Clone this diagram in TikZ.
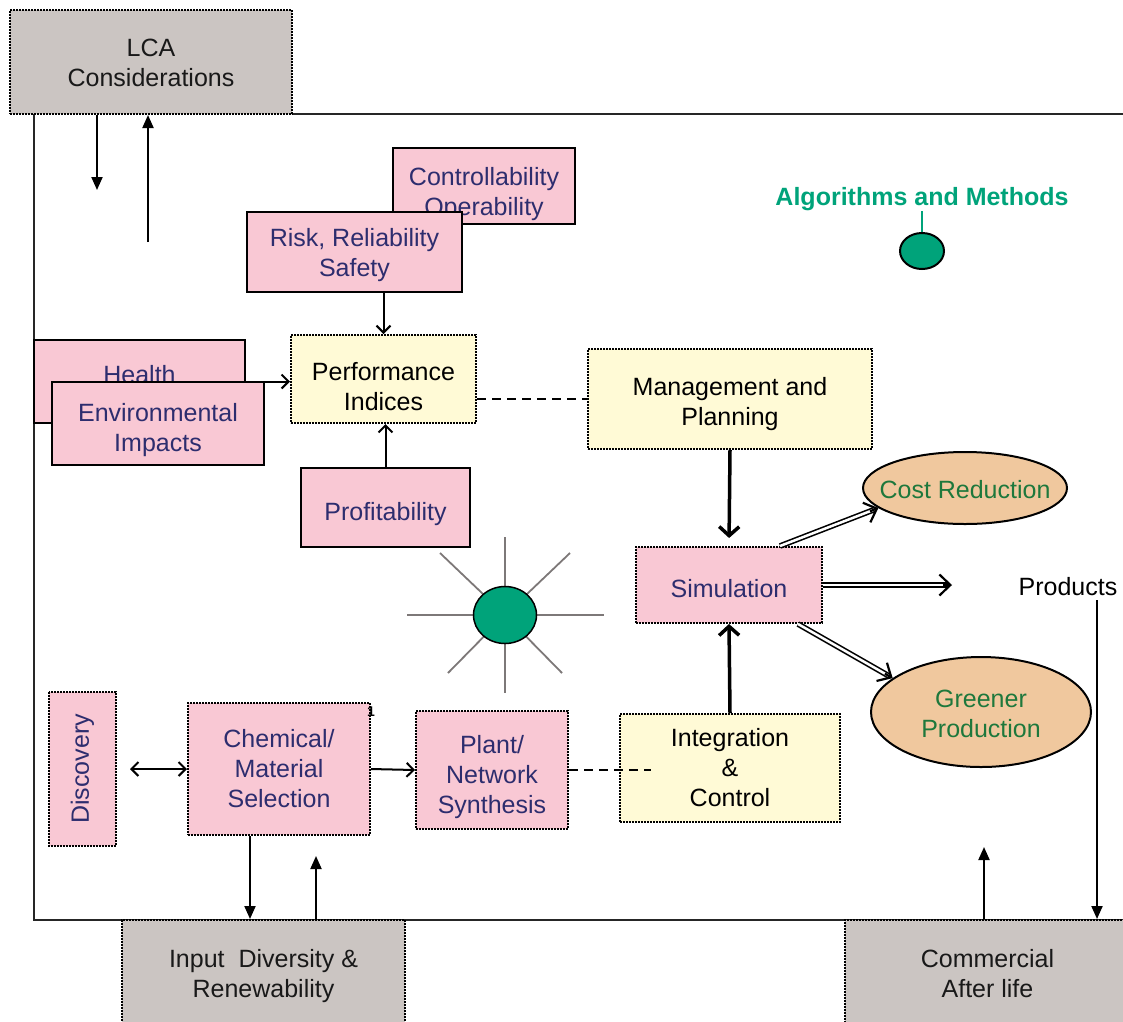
\documentclass[tikz,border=0pt]{standalone}
\usepackage{fontspec}
\setmainfont{Liberation Sans}
\usetikzlibrary{arrows.meta,shapes.geometric,calc}
\definecolor{pinkfill}{RGB}{249,200,212}
\definecolor{yelfill}{RGB}{255,250,214}
\definecolor{grayfill}{RGB}{203,197,194}
\definecolor{tanfill}{RGB}{240,200,158}
\definecolor{navytext}{RGB}{45,45,110}
\definecolor{greentext}{RGB}{30,120,60}
\definecolor{algteal}{RGB}{0,163,122}
\definecolor{raygray}{RGB}{125,120,120}
\definecolor{graytext}{RGB}{25,25,25}
\newcommand{\dropby}[1]{\rule{0pt}{\dimexpr 18pt+#1pt+#1pt\relax}}
\begin{document}
\begin{tikzpicture}[x=1pt,y=-1pt,font=\fontsize{25}{30}\selectfont,
  box/.style={draw,line width=2pt,inner sep=0pt,align=center},
  pinkbox/.style={box,fill=pinkfill,text=navytext},
  dotpink/.style={pinkbox,densely dotted},
  yelbox/.style={box,densely dotted,fill=yelfill,text=black},
  graybox/.style={box,densely dotted,fill=grayfill,text=graytext},
  goal/.style={ellipse,draw,line width=2pt,fill=tanfill,inner sep=0pt,label={[align=center,text=greentext]center:#1}},
  frame/.style={draw=black!85,line width=2pt},
  tri/.style={-{Triangle[length=13pt,width=11pt]},line width=2pt},
  barb/.style={-{Straight Barb[length=7pt,width=14pt]},line width=2pt},
  bigbarb/.style={-{Straight Barb[length=9pt,width=20pt]},line width=3.5pt},
  dbl/.style={double,double distance=2.5pt,line width=1.6pt,shorten >=4pt},
  dbltip/.style={-{Straight Barb[length=11pt,width=21pt]},line width=2.2pt},
  dashline/.style={dash pattern=on 9pt off 6pt,line width=2pt},
  ray/.style={draw=raygray,line width=1.8pt}]
\useasboundingbox (0,0) rectangle (1123,1021);
\clip (0,0) rectangle (1123,1021);

\draw[frame] (292,114) -- (1123,114);
\draw[frame] (34,114) |- (1123,920);

\node[graybox,minimum width=282pt,minimum height=104pt] (lca) at (151,62) {\dropby{1}LCA\\Considerations};
\node[graybox,minimum width=283pt,minimum height=106pt] (input) at (263.5,973) {\dropby{3}Input\ \ Diversity \&\\Renewability};
\node[graybox,minimum width=285pt,minimum height=106pt] (comm) at (987.5,973) {\dropby{1}Commercial\\After life};

\node[pinkbox,minimum width=182pt,minimum height=76pt] (ctrl) at (484,186) {\dropby{8}Controllability\\Operability};
\node[pinkbox,minimum width=215pt,minimum height=80pt] (risk) at (354.5,252) {\dropby{3}Risk, Reliability\\Safety};
\node[yelbox,minimum width=185pt,minimum height=88pt] (perf) at (383.5,379) {\dropby{8}Performance\\Indices};
\node[pinkbox,minimum width=211pt,minimum height=83pt] (health) at (139.5,381.5) {\raisebox{15pt}{Health}};
\node[pinkbox,minimum width=212pt,minimum height=83pt] (env) at (158,423.5) {\dropby{7}Environmental\\Impacts};
\node[pinkbox,minimum width=169pt,minimum height=79pt] (prof) at (385.5,507.5) {\dropby{7}Profitability};
\node[yelbox,minimum width=284pt,minimum height=100pt] (mgmt) at (730,399) {\dropby{5}Management and\\Planning};
\node[dotpink,minimum width=186pt,minimum height=76pt] (sim) at (729,585) {\dropby{4}Simulation};
\node[yelbox,minimum width=220pt,minimum height=108pt] (integ) at (730,768) {Integration\\\&\\Control};
\node[dotpink,minimum width=152pt,minimum height=118pt] (plant) at (492,770) {\dropby{7}Plant/\\Network\\Synthesis};
\node[dotpink,minimum width=182pt,minimum height=132pt] (chem) at (279,769) {Chemical/\\Material\\Selection};
\node[dotpink,minimum width=154pt,minimum height=67pt,rotate=90] (disc) at (82.5,769) {Discovery};
\node[font=\fontsize{14}{16}\selectfont\bfseries] (one) at (371,712) {1};

\node[goal={\dropby{2}Cost Reduction},minimum width=204pt,minimum height=72pt] (cost) at (965,488) {};
\node[goal={\dropby{2}Greener\\Production},minimum width=220pt,minimum height=110pt] (green) at (981,712) {};
\node[text=black] (prod) at (1068,587) {Products};

\node[text=algteal,font=\fontsize{25}{30}\selectfont\bfseries] (algo) at (922,199) {Algorithms and Methods};
\node[ellipse,draw,line width=2pt,fill=algteal,minimum width=44pt,minimum height=36pt] (algdot) at (922,251) {};
\draw[algteal,line width=2pt] (algdot.north) -- ++(0,-21);

\coordinate (suncentre) at (505,615);
\foreach \dx/\dy in {-98/0,99/0,0/-78,0/78,-65/-62,65/-62,-57/58,57/58}
  \draw[ray] (suncentre) -- ++(\dx,\dy);
\node[ellipse,draw,line width=1.5pt,fill=algteal,minimum width=63pt,minimum height=57pt] (sun) at (suncentre) {};

\coordinate (lcadown) at (97,190);
\coordinate (lcaup) at (148,242);
\draw[tri] (lca.south -| lcadown) -- (lcadown);
\draw[tri] (lcaup) -- (lcaup |- lca.south);
\draw[barb] (perf.north |- risk.south) -- (perf.north);
\draw[barb] (health.east) -- (health.east -| perf.west);
\draw[barb] (prof.north) -- (prof.north |- perf.south);
\draw[dashline] (perf.east |- mgmt.west) -- (mgmt.west);
\draw[bigbarb,shorten >=8pt] (mgmt.south) -- (sim.north);
\draw[bigbarb] (integ.north) -- (sim.south);

\coordinate (prodend) at (952,587);
\coordinate (costfoot) at ([xshift=51pt]sim.north);
\coordinate (greenfoot) at ([xshift=-25pt]sim.south east);
\draw[dbl] (costfoot) -- (cost.193);
\draw[dbltip] ($(cost.193)!9pt!(costfoot)$) -- (cost.193);
\draw[dbl] (sim.east) -- (sim.east -| prodend);
\draw[dbltip] ([xshift=-9pt]sim.east -| prodend) -- (sim.east -| prodend);
\draw[dbl] (greenfoot) -- (green.159);
\draw[dbltip] ($(green.159)!9pt!(greenfoot)$) -- (green.159);

\coordinate (prodline) at (1097,600);
\draw[tri] (prodline) -- (prodline |- comm.north);
\draw[tri] ([xshift=-3.5pt]comm.north) -- ++(0,-72);
\draw[tri] ([xshift=-29pt]chem.south) -- ([xshift=-29pt]chem.south |- input.north);
\draw[tri] ([xshift=52.5pt]input.north) -- ++(0,-63);

\draw[{Straight Barb[length=7pt,width=14pt]}-{Straight Barb[length=7pt,width=14pt]},line width=2pt] ([xshift=13pt]disc.south) -- (chem.west);
\draw[barb] (chem.east) -- (plant.west);
\draw[dashline] (plant.east) -- ++(82,0);
\end{tikzpicture}
\end{document}
